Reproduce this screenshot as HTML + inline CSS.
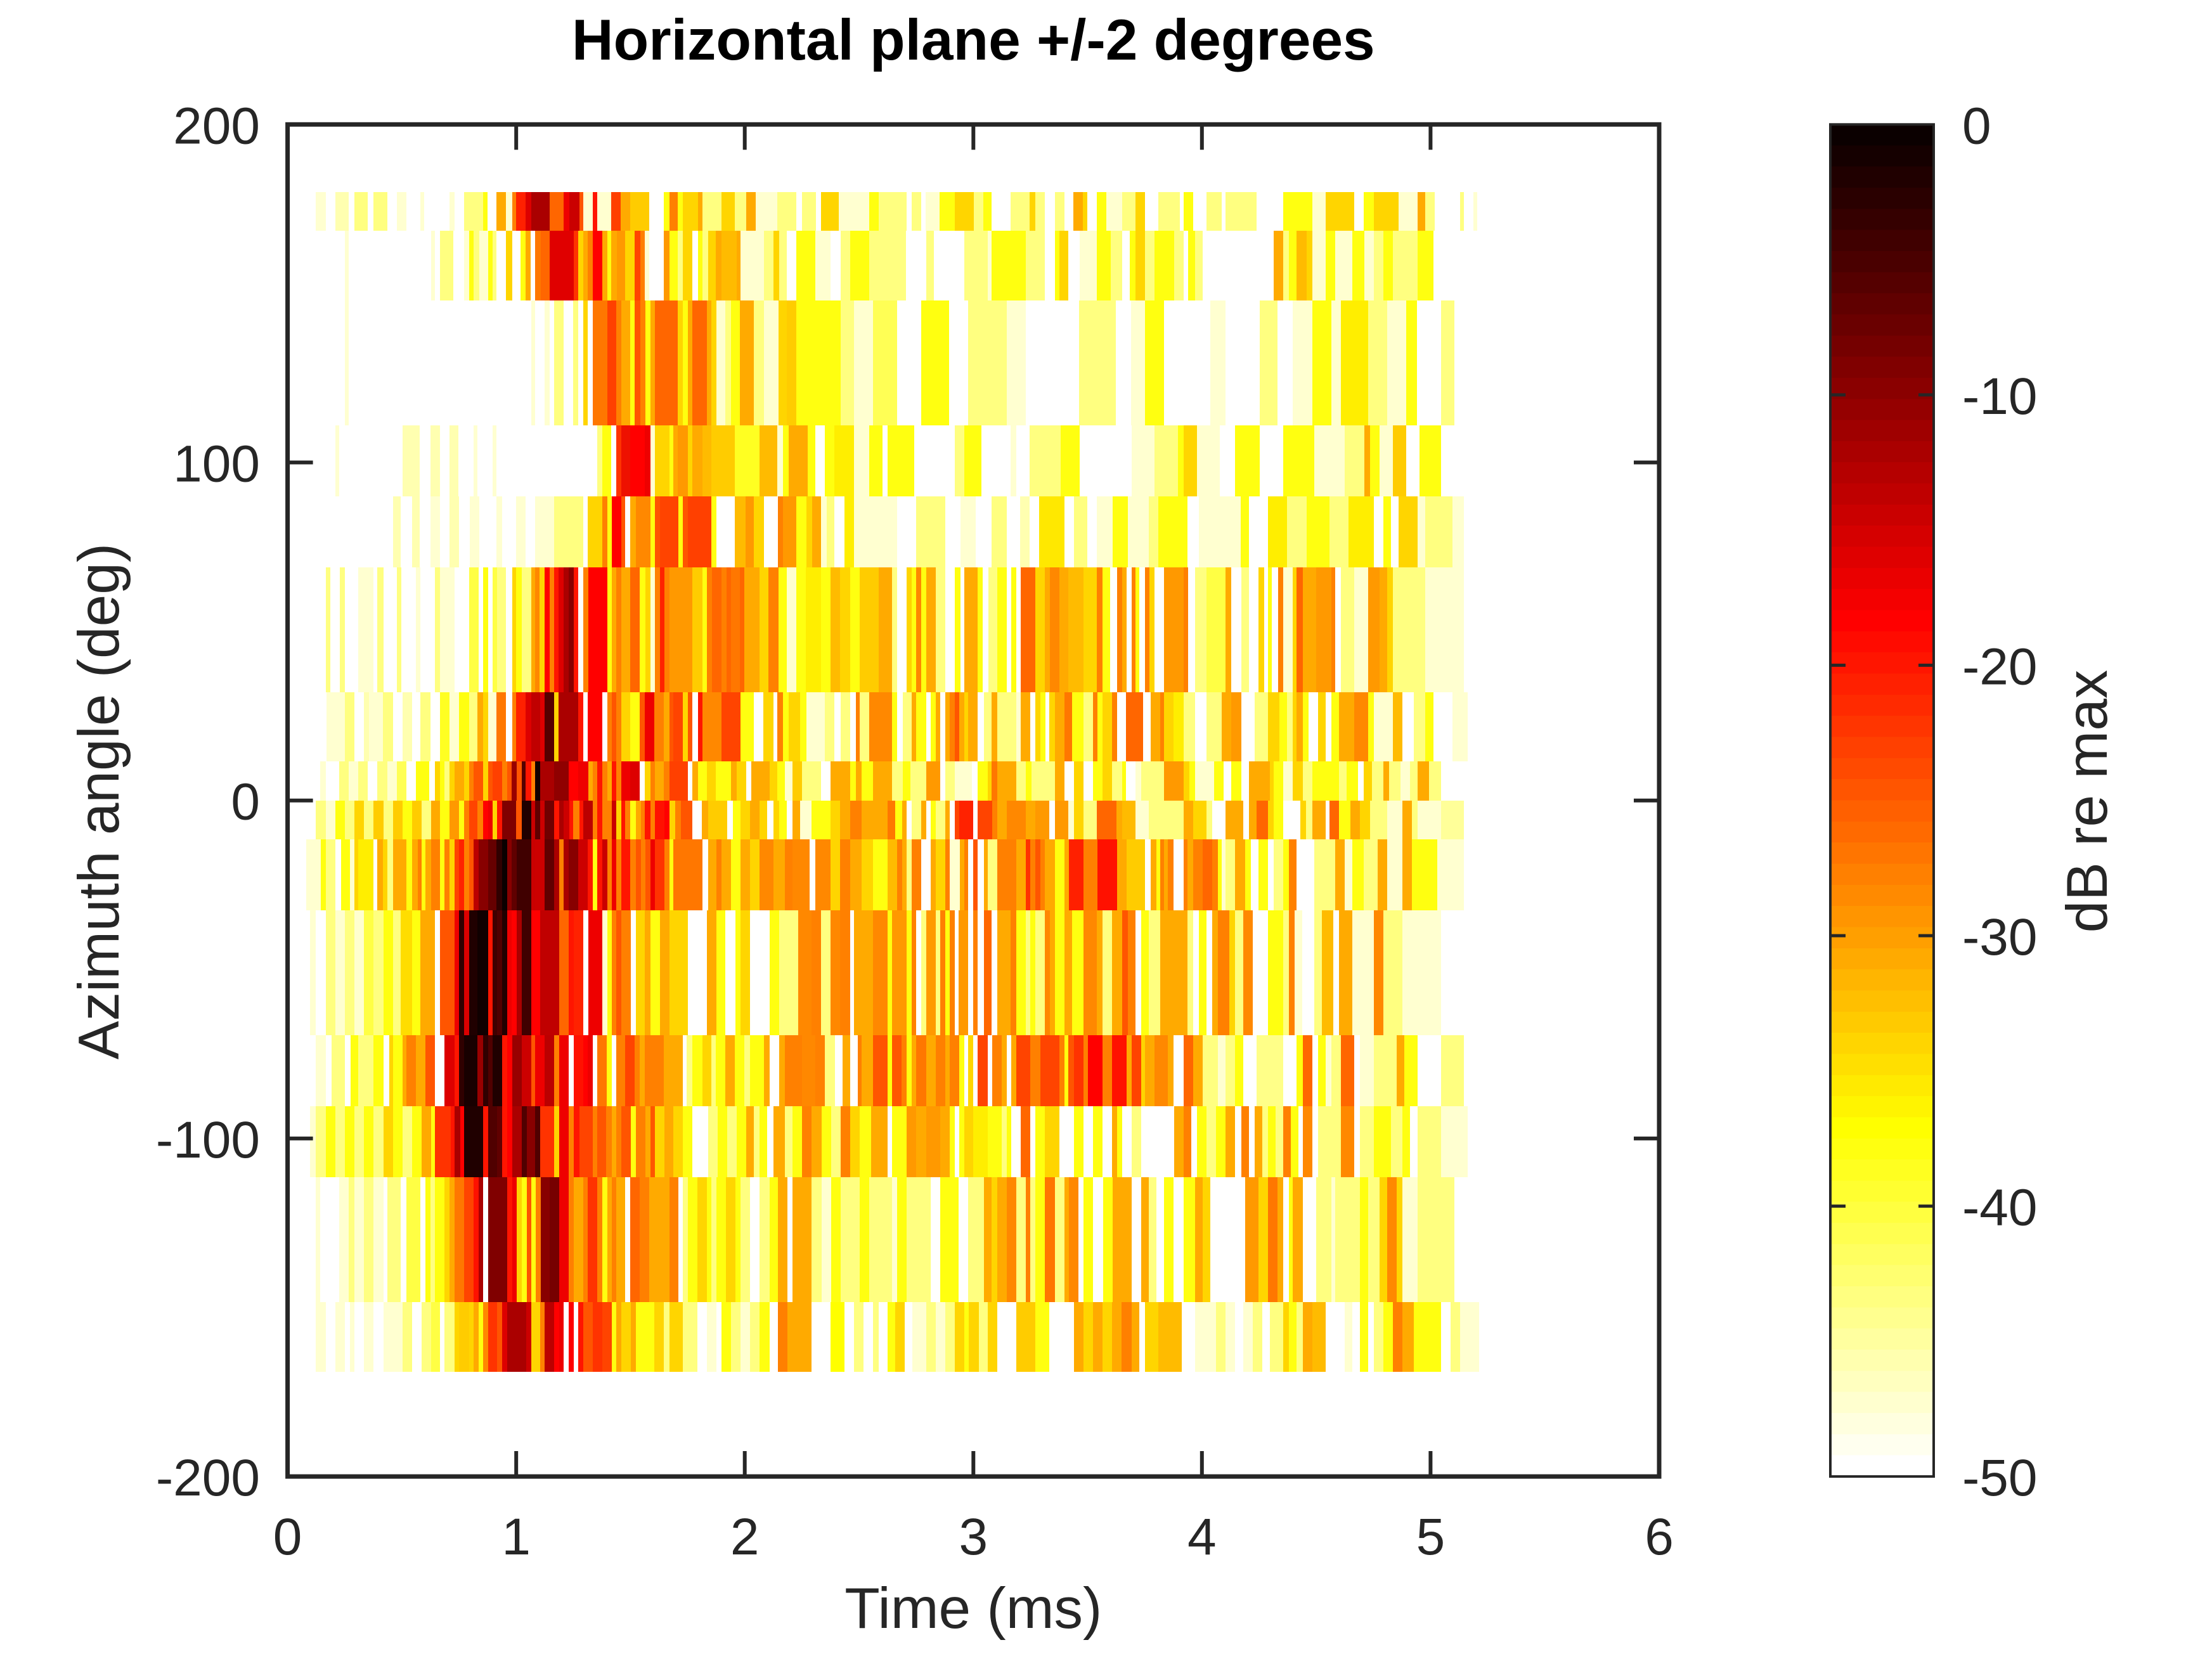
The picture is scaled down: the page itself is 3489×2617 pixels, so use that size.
<!DOCTYPE html>
<html><head><meta charset="utf-8"><style>
html,body{margin:0;padding:0;background:#fff}
body{width:3489px;height:2617px;position:relative;overflow:hidden;font-family:"Liberation Sans",Arial,Helvetica,sans-serif}
.r{position:absolute;left:0;width:2617px}
</style></head><body>

<div class="r" style="top:303px;height:61px;background:linear-gradient(90deg,#fff 0px 498px,#ffffd0 498px 514px,#fff 514px 529px,#ffffb0 529px 550px,#fff 550px 559px,#ffff80 559px 580px,#fff 580px 589px,#ffff80 589px 611px,#fff 611px 626px,#ffffd0 626px 641px,#fff 641px 663px,#ffffd0 663px 669px,#fff 669px 709px,#ffffd0 709px 717px,#fff 717px 732px,#ffff80 732px 762px,#ffff10 762px 769px,#fff 769px 783px,#ffaa00 783px 798px,#ffffd0 798px 808px,#ff8000 808px 814px,#ff2000 814px 829px,#dd0000 829px 838px,#aa0000 838px 867px,#ff6600 867px 889px,#ee0000 889px 898px,#ca0000 898px 914px,#ff5500 914px 920px,#ffffd0 920px 935px,#ff1500 935px 942px,#ffffd0 942px 964px,#ff4000 964px 979px,#ffaa00 979px 994px,#ffcc00 994px 1024px,#fff 1024px 1047px,#ffff10 1047px 1056px,#ff8000 1056px 1069px,#ffff10 1069px 1077px,#ffd500 1077px 1101px,#ffaa00 1101px 1108px,#ffff80 1108px 1138px,#ffd500 1138px 1159px,#ffff80 1159px 1177px,#ffaa00 1177px 1192px,#ffffd0 1192px 1226px,#ffff80 1226px 1256px,#fff 1256px 1265px,#ffff80 1265px 1287px,#fff 1287px 1295px,#ffd500 1295px 1323px,#ffffd0 1323px 1371px,#ffff10 1371px 1386px,#ffff80 1386px 1430px,#fff 1430px 1438px,#ffff80 1438px 1453px,#fff 1453px 1460px,#ffffd0 1460px 1482px,#ffff10 1482px 1506px,#ffd500 1506px 1536px,#ffff80 1536px 1551px,#ffff10 1551px 1564px,#fff 1564px 1594px,#ffff80 1594px 1624px,#ffd500 1624px 1633px,#ffff80 1633px 1648px,#fff 1648px 1664px,#ffff80 1664px 1679px,#fff 1679px 1693px,#ffaa00 1693px 1708px,#ffd500 1708px 1715px,#fff 1715px 1730px,#ffff10 1730px 1745px,#ffffd0 1745px 1770px,#ffff80 1770px 1791px,#ffd500 1791px 1806px,#fff 1806px 1827px,#ffff80 1827px 1861px,#fff 1861px 1867px,#ffff10 1867px 1882px,#fff 1882px 1903px,#ffff80 1903px 1927px,#fff 1927px 1933px,#ffff80 1933px 1982px,#fff 1982px 2024px,#ffff10 2024px 2070px,#ffffd0 2070px 2091px,#ffd500 2091px 2136px,#fff 2136px 2151px,#ffff10 2151px 2167px,#ffd500 2167px 2206px,#ffffd0 2206px 2236px,#ffaa00 2236px 2248px,#ffff80 2248px 2263px,#fff 2263px 2303px,#ffff80 2303px 2309px,#fff 2309px 2324px,#ffffd0 2324px 2330px,#fff 2330px)"></div>

<div class="r" style="top:364px;height:110px;background:linear-gradient(90deg,#fff 0px 544px,#ffffd0 544px 550px,#fff 550px 680px,#ffffd0 680px 686px,#fff 686px 694px,#ffff80 694px 715px,#fff 715px 732px,#ffffd0 732px 740px,#ffff10 740px 747px,#ffff80 747px 756px,#ffffd0 756px 770px,#ffff10 770px 777px,#ffff80 777px 783px,#fff 783px 798px,#ffd500 798px 808px,#fff 808px 821px,#ffff10 821px 829px,#ffaa00 829px 837px,#fff 837px 844px,#ff7700 844px 853px,#ff6600 853px 867px,#e00000 867px 905px,#ff3300 905px 912px,#ffd500 912px 920px,#ffaa00 920px 927px,#ff8000 927px 935px,#ff0000 935px 950px,#ffaa00 950px 958px,#ffff10 958px 964px,#ffaa00 964px 973px,#ff9900 973px 986px,#ffd500 986px 1001px,#ff4400 1001px 1010px,#ff8000 1010px 1017px,#ffffd0 1017px 1024px,#fff 1024px 1047px,#ff9900 1047px 1056px,#ffff10 1056px 1069px,#ffff80 1069px 1077px,#ffd500 1077px 1092px,#fff 1092px 1101px,#ffff10 1101px 1108px,#ffff80 1108px 1117px,#ffd500 1117px 1129px,#ffaa00 1129px 1138px,#ffbb00 1138px 1162px,#ffaa00 1162px 1168px,#ffffd0 1168px 1205px,#ffff80 1205px 1220px,#ffd500 1220px 1229px,#ffff80 1229px 1241px,#fff 1241px 1256px,#ffff10 1256px 1286px,#ffffd0 1286px 1310px,#fff 1310px 1326px,#ffff80 1326px 1341px,#ffff10 1341px 1371px,#ffff80 1371px 1429px,#fff 1429px 1461px,#ffff80 1461px 1473px,#fff 1473px 1521px,#ffff80 1521px 1558px,#ffffd0 1558px 1564px,#ffff10 1564px 1618px,#ffff80 1618px 1648px,#fff 1648px 1664px,#ffff10 1664px 1671px,#ffd500 1671px 1685px,#fff 1685px 1703px,#ffffd0 1703px 1730px,#ffff10 1730px 1752px,#ffff80 1752px 1770px,#fff 1770px 1782px,#ffff10 1782px 1791px,#ffd500 1791px 1806px,#ffff80 1806px 1821px,#ffff10 1821px 1852px,#ffff80 1852px 1867px,#fff 1867px 1874px,#ffff10 1874px 1885px,#ffff80 1885px 1897px,#fff 1897px 2009px,#ffaa00 2009px 2024px,#ffff80 2024px 2033px,#ffff10 2033px 2045px,#ffbb00 2045px 2061px,#ffd500 2061px 2070px,#ffffd0 2070px 2091px,#ffff10 2091px 2106px,#ffffd0 2106px 2133px,#ffff10 2133px 2152px,#ffffd0 2152px 2167px,#ffff80 2167px 2182px,#ffff10 2182px 2197px,#ffff80 2197px 2236px,#ffff10 2236px 2261px,#fff 2261px)"></div>

<div class="r" style="top:474px;height:197px;background:linear-gradient(90deg,#fff 0px 544px,#ffffd0 544px 550px,#fff 550px 838px,#ffffd0 838px 844px,#fff 844px 859px,#ffffd0 859px 867px,#fff 867px 874px,#ffff80 874px 889px,#fff 889px 904px,#ffff80 904px 912px,#fff 912px 920px,#ffd500 920px 927px,#fff 927px 935px,#ff7700 935px 958px,#ff4000 958px 972px,#ff8000 972px 980px,#ffaa00 980px 994px,#ffff10 994px 1001px,#ff5500 1001px 1010px,#ff8000 1010px 1018px,#ffff10 1018px 1026px,#ffaa00 1026px 1033px,#ff6600 1033px 1069px,#ffd500 1069px 1077px,#ffff10 1077px 1085px,#ffaa00 1085px 1092px,#ff6600 1092px 1115px,#ffaa00 1115px 1122px,#ffd500 1122px 1130px,#ffffd0 1130px 1144px,#ffff80 1144px 1153px,#ffff10 1153px 1167px,#ffaa00 1167px 1189px,#ffff80 1189px 1205px,#ffffd0 1205px 1228px,#ffd500 1228px 1241px,#ffcc00 1241px 1256px,#ffff10 1256px 1326px,#ffff80 1326px 1347px,#ffffd0 1347px 1377px,#ffff55 1377px 1415px,#fff 1415px 1453px,#ffff10 1453px 1497px,#fff 1497px 1527px,#ffff80 1527px 1588px,#ffffd0 1588px 1618px,#fff 1618px 1702px,#ffff80 1702px 1760px,#fff 1760px 1784px,#ffffd0 1784px 1806px,#ffff10 1806px 1836px,#fff 1836px 1909px,#ffffd0 1909px 1933px,#fff 1933px 1987px,#ffff80 1987px 2015px,#fff 2015px 2039px,#ffffd0 2039px 2070px,#ffff10 2070px 2100px,#ffffd0 2100px 2115px,#ffee00 2115px 2158px,#ffff80 2158px 2188px,#ffffd0 2188px 2218px,#ffff10 2218px 2235px,#fff 2235px 2273px,#ffff80 2273px 2294px,#fff 2294px)"></div>

<div class="r" style="top:671px;height:112px;background:linear-gradient(90deg,#fff 0px 529px,#ffffd0 529px 535px,#fff 535px 635px,#ffffb0 635px 662px,#fff 662px 679px,#ffffb0 679px 694px,#fff 694px 709px,#ffffb0 709px 723px,#fff 723px 747px,#ffffd0 747px 753px,#fff 753px 777px,#ffffd0 777px 783px,#fff 783px 942px,#ffff80 942px 950px,#ffff10 950px 964px,#fff 964px 972px,#ff3300 972px 980px,#ee1100 980px 994px,#ff0000 994px 1017px,#ee0000 1017px 1026px,#ffffd0 1026px 1033px,#ffd500 1033px 1056px,#ffff10 1056px 1062px,#ffaa00 1062px 1069px,#ff9900 1069px 1085px,#ffd500 1085px 1092px,#ffaa00 1092px 1108px,#ffbb00 1108px 1122px,#ffcc00 1122px 1159px,#ffff22 1159px 1198px,#ffbb00 1198px 1226px,#ffffd0 1226px 1235px,#ffff10 1235px 1244px,#ffaa00 1244px 1274px,#ffff10 1274px 1286px,#fff 1286px 1301px,#ffff10 1301px 1316px,#ffee00 1316px 1347px,#ffffd0 1347px 1371px,#ffff10 1371px 1392px,#fff 1392px 1400px,#ffff10 1400px 1442px,#fff 1442px 1506px,#ffff80 1506px 1521px,#ffff10 1521px 1548px,#fff 1548px 1594px,#ffffd0 1594px 1603px,#fff 1603px 1624px,#ffff80 1624px 1673px,#ffff10 1673px 1703px,#fff 1703px 1785px,#ffffd0 1785px 1821px,#ffff80 1821px 1858px,#ffff10 1858px 1867px,#ffd500 1867px 1888px,#ffffd0 1888px 1924px,#fff 1924px 1948px,#ffff10 1948px 1987px,#fff 1987px 2024px,#ffff10 2024px 2073px,#ffffd0 2073px 2121px,#ffff80 2121px 2152px,#ffaa00 2152px 2161px,#ffff10 2161px 2176px,#ffffd0 2176px 2197px,#ffcc00 2197px 2218px,#fff 2218px 2239px,#ffff10 2239px 2273px,#fff 2273px)"></div>

<div class="r" style="top:783px;height:112px;background:linear-gradient(90deg,#fff 0px 620px,#ffffb0 620px 632px,#fff 632px 650px,#ffffb0 650px 662px,#fff 662px 679px,#ffffd0 679px 694px,#fff 694px 709px,#ffffb0 709px 724px,#fff 724px 741px,#ffffd0 741px 756px,#fff 756px 783px,#ffffd0 783px 792px,#fff 792px 814px,#ffffd0 814px 829px,#fff 829px 844px,#ffffd0 844px 874px,#ffff80 874px 920px,#fff 920px 927px,#ffd500 927px 950px,#ff8000 950px 958px,#ffff10 958px 965px,#ff0000 965px 980px,#ff5500 980px 986px,#fff 986px 994px,#ffaa00 994px 1003px,#ff8800 1003px 1026px,#ffff10 1026px 1033px,#ff5500 1033px 1041px,#ff4400 1041px 1070px,#ffff10 1070px 1077px,#ff5500 1077px 1085px,#ff4000 1085px 1122px,#ffff10 1122px 1130px,#fff 1130px 1159px,#ffbb00 1159px 1176px,#ff9900 1176px 1189px,#ffd500 1189px 1205px,#fff 1205px 1227px,#ff8000 1227px 1235px,#ff9900 1235px 1256px,#ffff10 1256px 1272px,#ffd500 1272px 1281px,#ffaa00 1281px 1295px,#ffffd0 1295px 1304px,#ffff80 1304px 1316px,#fff 1316px 1332px,#ffee00 1332px 1347px,#ffffd0 1347px 1415px,#fff 1415px 1445px,#ffff80 1445px 1491px,#fff 1491px 1515px,#ffffd0 1515px 1539px,#fff 1539px 1564px,#ffff80 1564px 1588px,#fff 1588px 1609px,#ffffb0 1609px 1624px,#fff 1624px 1639px,#ffe800 1639px 1679px,#fff 1679px 1694px,#ffff80 1694px 1715px,#fff 1715px 1730px,#ffffd0 1730px 1755px,#ffff10 1755px 1779px,#ffffd0 1779px 1812px,#ffff80 1812px 1827px,#ffff10 1827px 1873px,#fff 1873px 1891px,#ffffd0 1891px 1957px,#ffff10 1957px 1970px,#fff 1970px 2000px,#ffee00 2000px 2030px,#ffff80 2030px 2061px,#ffff10 2061px 2097px,#ffff80 2097px 2127px,#ffee00 2127px 2167px,#fff 2167px 2182px,#ffff10 2182px 2194px,#fff 2194px 2206px,#ffd500 2206px 2236px,#ffffd0 2236px 2248px,#ffff80 2248px 2291px,#ffffd0 2291px 2309px,#fff 2309px)"></div>

<div class="r" style="top:895px;height:197px;background:linear-gradient(90deg,#fff 0px 514px,#ffff80 514px 521px,#fff 521px 536px,#ffff80 536px 544px,#fff 544px 565px,#ffffd0 565px 589px,#fff 589px 595px,#ffff80 595px 605px,#fff 605px 626px,#ffff80 626px 633px,#fff 633px 656px,#ffffd0 656px 663px,#fff 663px 686px,#ffff80 686px 694px,#ffffd0 694px 717px,#fff 717px 740px,#ffff44 740px 755px,#fff 755px 762px,#ffff10 762px 770px,#fff 770px 777px,#ffff44 777px 784px,#ffff80 784px 798px,#fff 798px 808px,#ffd500 808px 814px,#ffff10 814px 823px,#ffff80 823px 838px,#ffaa00 838px 844px,#ff8800 844px 851px,#ffd500 851px 859px,#ff0000 859px 867px,#ff8000 867px 874px,#ff1500 874px 881px,#dd0000 881px 889px,#aa0000 889px 897px,#880000 897px 905px,#ff1500 905px 912px,#fff 912px 920px,#ff8000 920px 928px,#ff0000 928px 958px,#ffff10 958px 965px,#ffaa00 965px 972px,#ff8000 972px 980px,#ffaa00 980px 994px,#ff6600 994px 1009px,#ffff10 1009px 1018px,#ffd500 1018px 1026px,#ffffd0 1026px 1033px,#ff8000 1033px 1041px,#ff2200 1041px 1048px,#ff8000 1048px 1056px,#ff9900 1056px 1092px,#ffcc00 1092px 1108px,#ffff10 1108px 1115px,#ff8000 1115px 1123px,#ff6600 1123px 1138px,#ff8000 1138px 1146px,#ff6600 1146px 1153px,#ff7700 1153px 1167px,#ff6600 1167px 1174px,#ffaa00 1174px 1198px,#ffd500 1198px 1212px,#ff8000 1212px 1228px,#ffff10 1228px 1241px,#ffffd0 1241px 1256px,#ffff10 1256px 1271px,#ffee00 1271px 1295px,#ffff10 1295px 1310px,#ffbb00 1310px 1325px,#ffd500 1325px 1341px,#ffff10 1341px 1356px,#ffcc00 1356px 1386px,#ffaa00 1386px 1407px,#ffff80 1407px 1415px,#fff 1415px 1430px,#ffd500 1430px 1438px,#ffff10 1438px 1445px,#ff8800 1445px 1453px,#ffff10 1453px 1461px,#ffaa00 1461px 1476px,#ffff80 1476px 1491px,#fff 1491px 1506px,#ffff10 1506px 1515px,#fff 1515px 1521px,#ffaa00 1521px 1542px,#ffff10 1542px 1550px,#fff 1550px 1559px,#ffff80 1559px 1573px,#ffff10 1573px 1588px,#fff 1588px 1595px,#ffff10 1595px 1603px,#fff 1603px 1610px,#ff6600 1610px 1633px,#ffd500 1633px 1648px,#ffaa00 1648px 1656px,#ff8800 1656px 1671px,#ffaa00 1671px 1685px,#ffbb00 1685px 1709px,#ffd500 1709px 1730px,#ff8000 1730px 1739px,#ffff10 1739px 1751px,#fff 1751px 1762px,#ff8000 1762px 1770px,#ffaa00 1770px 1777px,#fff 1777px 1785px,#ff8000 1785px 1791px,#ffff10 1791px 1797px,#fff 1797px 1806px,#ff8000 1806px 1813px,#ffd500 1813px 1821px,#fff 1821px 1836px,#ff9900 1836px 1867px,#ff8000 1867px 1874px,#fff 1874px 1885px,#ffff80 1885px 1903px,#ffff44 1903px 1933px,#ffaa00 1933px 1942px,#fff 1942px 1958px,#ffff80 1958px 1970px,#fff 1970px 1985px,#ffd500 1985px 1994px,#fff 1994px 2000px,#ffff10 2000px 2006px,#fff 2006px 2016px,#ff8000 2016px 2024px,#ffffd0 2024px 2039px,#ffd500 2039px 2045px,#ff6600 2045px 2055px,#ffaa00 2055px 2076px,#ff9900 2076px 2100px,#ff8000 2100px 2106px,#fff 2106px 2115px,#ffff80 2115px 2136px,#ffffd0 2136px 2158px,#ff9900 2158px 2176px,#ffaa00 2176px 2188px,#ffd500 2188px 2197px,#ffff80 2197px 2248px,#ffffd0 2248px 2309px,#fff 2309px)"></div>

<div class="r" style="top:1092px;height:109px;background:linear-gradient(90deg,#fff 0px 515px,#ffffd0 515px 544px,#ffff80 544px 559px,#fff 559px 574px,#ffffb0 574px 582px,#ffffd0 582px 604px,#ffff80 604px 620px,#fff 620px 635px,#ffffb0 635px 650px,#fff 650px 663px,#ffff80 663px 679px,#fff 679px 694px,#ffff22 694px 709px,#ffffd0 709px 724px,#ffff10 724px 740px,#ffff80 740px 753px,#ffaa00 753px 762px,#ffd500 762px 770px,#ffffd0 770px 783px,#ff7700 783px 798px,#fff 798px 808px,#ff8000 808px 814px,#ff2000 814px 829px,#dd0000 829px 838px,#c00000 838px 852px,#dd0000 852px 859px,#550000 859px 874px,#ffd500 874px 881px,#aa0000 881px 912px,#ff1500 912px 920px,#fff 920px 927px,#ff0000 927px 950px,#fff 950px 958px,#ff8000 958px 965px,#ff5500 965px 972px,#ff8000 972px 980px,#ffd500 980px 994px,#ffff10 994px 1009px,#ff5500 1009px 1017px,#ee0000 1017px 1032px,#ff8000 1032px 1047px,#ffaa00 1047px 1056px,#ff5500 1056px 1062px,#ff4400 1062px 1077px,#ffd500 1077px 1085px,#ff5500 1085px 1092px,#fff 1092px 1101px,#ff1500 1101px 1108px,#ff8800 1108px 1138px,#ff4400 1138px 1168px,#ffff10 1168px 1189px,#fff 1189px 1204px,#ffd500 1204px 1220px,#fff 1220px 1226px,#ff8000 1226px 1235px,#ffff10 1235px 1244px,#ffd500 1244px 1262px,#ffff10 1262px 1272px,#ffffd0 1272px 1301px,#ffff80 1301px 1316px,#fff 1316px 1326px,#ffff80 1326px 1341px,#fff 1341px 1350px,#ff8000 1350px 1356px,#ffff80 1356px 1371px,#ff8800 1371px 1407px,#ffff10 1407px 1415px,#fff 1415px 1424px,#ffff80 1424px 1438px,#ffaa00 1438px 1445px,#ffff10 1445px 1461px,#fff 1461px 1468px,#ffff10 1468px 1476px,#ffaa00 1476px 1483px,#fff 1483px 1491px,#ffaa00 1491px 1498px,#ff8000 1498px 1506px,#ff5500 1506px 1513px,#ffaa00 1513px 1521px,#ffd500 1521px 1527px,#ffaa00 1527px 1542px,#fff 1542px 1552px,#ffff80 1552px 1564px,#ffaa00 1564px 1573px,#ffff80 1573px 1603px,#ffffd0 1603px 1610px,#ffaa00 1610px 1625px,#fff 1625px 1633px,#ffd500 1633px 1641px,#ffff10 1641px 1649px,#fff 1649px 1655px,#ffd500 1655px 1664px,#ffaa00 1664px 1679px,#ff7700 1679px 1691px,#ffff10 1691px 1709px,#ffff80 1709px 1724px,#ff8000 1724px 1731px,#ffff10 1731px 1739px,#ffd500 1739px 1754px,#ff8000 1754px 1762px,#fff 1762px 1776px,#ff6600 1776px 1803px,#fff 1803px 1815px,#ffaa00 1815px 1830px,#ff8000 1830px 1836px,#ffd500 1836px 1851px,#ffee00 1851px 1867px,#ffff80 1867px 1885px,#fff 1885px 1903px,#ffff80 1903px 1927px,#ffaa00 1927px 1942px,#ff9900 1942px 1958px,#fff 1958px 1979px,#ffff80 1979px 2000px,#ffd500 2000px 2018px,#ffff10 2018px 2030px,#ffff80 2030px 2039px,#ffd500 2039px 2045px,#ffaa00 2045px 2055px,#ffff10 2055px 2064px,#fff 2064px 2079px,#ffd500 2079px 2091px,#fff 2091px 2100px,#ffff10 2100px 2112px,#ffaa00 2112px 2136px,#ff8800 2136px 2158px,#ffff10 2158px 2167px,#ffffd0 2167px 2197px,#ffbb00 2197px 2212px,#fff 2212px 2230px,#ffff80 2230px 2248px,#ffff10 2248px 2261px,#fff 2261px 2291px,#ffffd0 2291px 2315px,#fff 2315px)"></div>

<div class="r" style="top:1201px;height:62px;background:linear-gradient(90deg,#fff 0px 505px,#ffffd0 505px 514px,#fff 514px 535px,#ffff80 535px 550px,#ffffd0 550px 565px,#ffff80 565px 580px,#fff 580px 595px,#ffff80 595px 611px,#ffffd0 611px 626px,#ffff55 626px 641px,#fff 641px 656px,#ffff10 656px 677px,#fff 677px 686px,#ffd500 686px 694px,#ffff10 694px 701px,#ffff80 701px 709px,#ffd500 709px 717px,#ffaa00 717px 732px,#ffd500 732px 740px,#ff8000 740px 747px,#ff5500 747px 762px,#ffd500 762px 770px,#ff5500 770px 777px,#ff4000 777px 792px,#ff8000 792px 800px,#ff5500 800px 807px,#990000 807px 815px,#ff5500 815px 823px,#550000 823px 829px,#ff1500 829px 838px,#ff8000 838px 844px,#100000 844px 852px,#aa0000 852px 874px,#900000 874px 897px,#ff0000 897px 912px,#ee0000 912px 928px,#ffaa00 928px 935px,#ff8000 935px 942px,#ff1500 942px 950px,#ff8000 950px 958px,#ffaa00 958px 965px,#ff1500 965px 972px,#ff8000 972px 980px,#ee0000 980px 994px,#dd0000 994px 1009px,#fff 1009px 1017px,#ffd500 1017px 1026px,#ff8000 1026px 1033px,#ffaa00 1033px 1047px,#ff8000 1047px 1056px,#ff4000 1056px 1085px,#fff 1085px 1092px,#ffaa00 1092px 1101px,#ffff10 1101px 1115px,#ffd500 1115px 1129px,#ffff10 1129px 1153px,#ffaa00 1153px 1162px,#ffd500 1162px 1177px,#fff 1177px 1185px,#ffaa00 1185px 1214px,#ffd500 1214px 1226px,#ffff10 1226px 1238px,#ffffd0 1238px 1250px,#ffcc00 1250px 1265px,#ffff80 1265px 1295px,#fff 1295px 1310px,#ffaa00 1310px 1341px,#ffff10 1341px 1350px,#ffaa00 1350px 1359px,#ffff10 1359px 1377px,#ffaa00 1377px 1407px,#ffff80 1407px 1424px,#ffff10 1424px 1436px,#ffff80 1436px 1461px,#ff9900 1461px 1483px,#fff 1483px 1491px,#ffff80 1491px 1506px,#ffffd0 1506px 1533px,#fff 1533px 1542px,#ffff10 1542px 1558px,#ffd500 1558px 1564px,#ff7700 1564px 1573px,#ffaa00 1573px 1603px,#ffff80 1603px 1618px,#ffff10 1618px 1627px,#ffff80 1627px 1664px,#ffaa00 1664px 1679px,#fff 1679px 1694px,#ffd500 1694px 1709px,#fff 1709px 1724px,#ffff10 1724px 1739px,#ffd500 1739px 1754px,#ffff80 1754px 1770px,#ffff10 1770px 1776px,#fff 1776px 1791px,#ffffd0 1791px 1800px,#ffff80 1800px 1836px,#ff9900 1836px 1867px,#ffd500 1867px 1876px,#ffff10 1876px 1885px,#ffffd0 1885px 1915px,#ffff10 1915px 1930px,#fff 1930px 1942px,#ffff10 1942px 1958px,#fff 1958px 1970px,#ffaa00 1970px 2003px,#ffd500 2003px 2009px,#ffff10 2009px 2024px,#ffffd0 2024px 2039px,#ffd500 2039px 2055px,#ffff80 2055px 2070px,#ffff10 2070px 2112px,#ffff80 2112px 2124px,#ffff10 2124px 2142px,#fff 2142px 2151px,#ffd500 2151px 2164px,#ffff80 2164px 2182px,#ffaa00 2182px 2191px,#ffff80 2191px 2209px,#ffffd0 2209px 2224px,#ffff80 2224px 2236px,#ffaa00 2236px 2254px,#ffff80 2254px 2273px,#fff 2273px)"></div>

<div class="r" style="top:1263px;height:61px;background:linear-gradient(90deg,#fff 0px 498px,#ffff80 498px 514px,#ffffd0 514px 529px,#ffff10 529px 544px,#ffff80 544px 559px,#ffd500 559px 574px,#ffff80 574px 589px,#ffcc00 589px 605px,#ffff80 605px 620px,#ffcc00 620px 635px,#ffff10 635px 650px,#ffcc00 650px 665px,#ffff80 665px 680px,#ffaa00 680px 694px,#ffff10 694px 709px,#ff9900 709px 724px,#ffff10 724px 732px,#ff8000 732px 740px,#ff4400 740px 753px,#ff8000 753px 762px,#ff0000 762px 770px,#ee0000 770px 777px,#ffd500 777px 784px,#ff1500 784px 792px,#800000 792px 814px,#ff5500 814px 823px,#200000 823px 838px,#ca0000 838px 844px,#600000 844px 852px,#cc0000 852px 859px,#700000 859px 874px,#ff1500 874px 882px,#aa0000 882px 889px,#cc0000 889px 898px,#ff1500 898px 904px,#ff8000 904px 914px,#ff1500 914px 920px,#bb0000 920px 935px,#ff8000 935px 942px,#ff1500 942px 950px,#ff8000 950px 965px,#ca0000 965px 972px,#ffd500 972px 980px,#ff1500 980px 986px,#ff8000 986px 994px,#ffff10 994px 1003px,#ffaa00 1003px 1011px,#ff8000 1011px 1017px,#ff1500 1017px 1026px,#ff8000 1026px 1033px,#ff1100 1033px 1048px,#ff0000 1048px 1056px,#ffd500 1056px 1065px,#ff8000 1065px 1074px,#ff5500 1074px 1092px,#fff 1092px 1107px,#ffaa00 1107px 1117px,#ffcc00 1117px 1147px,#fff 1147px 1156px,#ffff10 1156px 1168px,#ffd500 1168px 1183px,#ffaa00 1183px 1198px,#ffd500 1198px 1210px,#fff 1210px 1220px,#ffd500 1220px 1229px,#ffff10 1229px 1241px,#fff 1241px 1250px,#ffaa00 1250px 1262px,#ffffd0 1262px 1280px,#ffff10 1280px 1310px,#ffd500 1310px 1325px,#ffaa00 1325px 1341px,#ff8000 1341px 1359px,#ffaa00 1359px 1400px,#ff7700 1400px 1412px,#ffff10 1412px 1423px,#ffaa00 1423px 1430px,#fff 1430px 1438px,#ffff80 1438px 1453px,#ffaa00 1453px 1461px,#fff 1461px 1468px,#ffff10 1468px 1476px,#ffff80 1476px 1491px,#ffaa00 1491px 1498px,#fff 1498px 1506px,#ff4400 1506px 1513px,#ff2200 1513px 1535px,#fff 1535px 1542px,#ff4400 1542px 1565px,#ff8000 1565px 1573px,#ffaa00 1573px 1588px,#ff8800 1588px 1618px,#ffaa00 1618px 1633px,#ff9900 1633px 1655px,#fff 1655px 1664px,#ff9900 1664px 1685px,#ffffd0 1685px 1694px,#ffd500 1694px 1709px,#ffff80 1709px 1730px,#ff6600 1730px 1761px,#ffaa00 1761px 1770px,#ffbb00 1770px 1791px,#ffffd0 1791px 1812px,#ffff80 1812px 1867px,#ffaa00 1867px 1882px,#ffd500 1882px 1903px,#ffff80 1903px 1912px,#fff 1912px 1933px,#ffaa00 1933px 1961px,#fff 1961px 1970px,#ffaa00 1970px 1982px,#ff6600 1982px 2000px,#ffd500 2000px 2009px,#ffff10 2009px 2024px,#fff 2024px 2051px,#ffd500 2051px 2060px,#ffff80 2060px 2070px,#ffaa00 2070px 2091px,#fff 2091px 2097px,#ff6600 2097px 2112px,#ffff10 2112px 2130px,#ffaa00 2130px 2145px,#ffd500 2145px 2161px,#ffff80 2161px 2188px,#ffffd0 2188px 2212px,#ffaa00 2212px 2227px,#ffff80 2227px 2236px,#ffffd0 2236px 2273px,#ffff99 2273px 2309px,#fff 2309px)"></div>

<div class="r" style="top:1324px;height:112px;background:linear-gradient(90deg,#fff 0px 483px,#ffffd0 483px 506px,#ffff10 506px 514px,#ffff80 514px 529px,#fff 529px 538px,#ffff10 538px 552px,#ffffd0 552px 559px,#ffd500 559px 565px,#ffee00 565px 589px,#fff 589px 595px,#ffaa00 595px 604px,#ffd500 604px 611px,#ffff80 611px 620px,#ffaa00 620px 641px,#ffff10 641px 650px,#ffaa00 650px 659px,#ff8000 659px 665px,#ffff10 665px 671px,#ffaa00 671px 680px,#ff8000 680px 694px,#ffff10 694px 701px,#ff8000 701px 709px,#ffd500 709px 717px,#ff4400 717px 724px,#ff2200 724px 732px,#ff8000 732px 740px,#ff5500 740px 747px,#bb0000 747px 755px,#880000 755px 770px,#660000 770px 783px,#300000 783px 792px,#0a0000 792px 800px,#880000 800px 807px,#600000 807px 815px,#400000 815px 838px,#ca0000 838px 844px,#cc0000 844px 859px,#600000 859px 874px,#aa0000 874px 882px,#ff8000 882px 889px,#aa0000 889px 897px,#880000 897px 912px,#cc0000 912px 927px,#ff1500 927px 935px,#ffff10 935px 942px,#ff1500 942px 950px,#ca0000 950px 958px,#ff8000 958px 965px,#ee0000 965px 972px,#ff8000 972px 980px,#ff1500 980px 994px,#ff8000 994px 1003px,#ff5500 1003px 1011px,#ff8000 1011px 1018px,#ff5500 1018px 1026px,#ee0000 1026px 1033px,#ff3300 1033px 1048px,#ff8000 1048px 1056px,#ffff10 1056px 1062px,#ff7700 1062px 1108px,#fff 1108px 1117px,#ffaa00 1117px 1130px,#ff8000 1130px 1138px,#ffaa00 1138px 1153px,#ffff10 1153px 1168px,#ffaa00 1168px 1183px,#ffd500 1183px 1198px,#ff8800 1198px 1220px,#ffaa00 1220px 1238px,#ff8000 1238px 1250px,#ff8800 1250px 1277px,#fff 1277px 1286px,#ff8800 1286px 1310px,#ffd500 1310px 1325px,#ff8000 1325px 1341px,#ffaa00 1341px 1359px,#ffd500 1359px 1377px,#ffff10 1377px 1400px,#ffbb00 1400px 1415px,#ff8000 1415px 1423px,#ffaa00 1423px 1430px,#ffff80 1430px 1438px,#ff8000 1438px 1453px,#fff 1453px 1468px,#ffaa00 1468px 1476px,#ffd500 1476px 1491px,#ff8000 1491px 1498px,#ffffd0 1498px 1514px,#ffaa00 1514px 1521px,#ff8000 1521px 1527px,#fff 1527px 1535px,#ff5500 1535px 1542px,#fff 1542px 1552px,#ffaa00 1552px 1558px,#ffff80 1558px 1573px,#ff8000 1573px 1603px,#ffaa00 1603px 1618px,#ff3300 1618px 1625px,#ff8000 1625px 1633px,#ff5500 1633px 1641px,#ff8000 1641px 1648px,#ffaa00 1648px 1664px,#ffff10 1664px 1679px,#ffaa00 1679px 1686px,#ff2000 1686px 1709px,#ff8000 1709px 1731px,#ff1100 1731px 1762px,#ffaa00 1762px 1777px,#ffcc00 1777px 1806px,#fff 1806px 1815px,#ffaa00 1815px 1824px,#ffff10 1824px 1830px,#ff8000 1830px 1836px,#ffaa00 1836px 1842px,#ff8000 1842px 1851px,#fff 1851px 1867px,#ff8000 1867px 1873px,#ffaa00 1873px 1882px,#ff8000 1882px 1897px,#ff6600 1897px 1912px,#ff8000 1912px 1921px,#ffff10 1921px 1927px,#ffffd0 1927px 1933px,#ffff80 1933px 1948px,#ffaa00 1948px 1964px,#ffff10 1964px 1973px,#fff 1973px 1985px,#ffff10 1985px 2000px,#fff 2000px 2009px,#ffff80 2009px 2024px,#ffff10 2024px 2033px,#ff8000 2033px 2045px,#fff 2045px 2073px,#ffff80 2073px 2106px,#ffaa00 2106px 2121px,#ffffd0 2121px 2133px,#ffff10 2133px 2151px,#ffff80 2151px 2173px,#ffaa00 2173px 2188px,#ffffd0 2188px 2212px,#ffaa00 2212px 2227px,#ffff10 2227px 2267px,#ffffd0 2267px 2309px,#fff 2309px)"></div>

<div class="r" style="top:1436px;height:197px;background:linear-gradient(90deg,#fff 0px 489px,#ffffd0 489px 498px,#fff 498px 514px,#ffff80 514px 529px,#ffffd0 529px 544px,#ffff80 544px 559px,#ffffd0 559px 574px,#ffff44 574px 589px,#ffff80 589px 605px,#ffff10 605px 620px,#ffff80 620px 632px,#ffdd00 632px 650px,#ffff10 650px 663px,#ffaa00 663px 686px,#fff 686px 694px,#ff5500 694px 717px,#ee0000 717px 724px,#300000 724px 732px,#dd0000 732px 740px,#200000 740px 753px,#100000 753px 770px,#ff1500 770px 777px,#400000 777px 784px,#500000 784px 792px,#200000 792px 800px,#ee0000 800px 807px,#ff0000 807px 815px,#aa0000 815px 823px,#400000 823px 838px,#ff0000 838px 852px,#c00000 852px 882px,#ff6600 882px 897px,#ff1500 897px 905px,#ff2200 905px 920px,#fff 920px 928px,#ee0000 928px 950px,#ffffd0 950px 958px,#ffff10 958px 965px,#ff8000 965px 972px,#ff5500 972px 980px,#ff8000 980px 995px,#fff 995px 1003px,#ffd500 1003px 1017px,#ffaa00 1017px 1026px,#ffff10 1026px 1041px,#ffaa00 1041px 1056px,#ffd500 1056px 1085px,#fff 1085px 1115px,#ffaa00 1115px 1130px,#ffff10 1130px 1144px,#fff 1144px 1160px,#ffff10 1160px 1168px,#ffd500 1168px 1183px,#fff 1183px 1214px,#ffff10 1214px 1229px,#ffff80 1229px 1259px,#ff8800 1259px 1280px,#ff8000 1280px 1295px,#ffff80 1295px 1310px,#ff8800 1310px 1325px,#ff8000 1325px 1341px,#fff 1341px 1347px,#ffaa00 1347px 1377px,#ff8800 1377px 1400px,#ffff10 1400px 1407px,#ff9900 1407px 1430px,#ffff10 1430px 1438px,#ff8000 1438px 1445px,#fff 1445px 1453px,#ffff80 1453px 1461px,#ff9900 1461px 1476px,#ffff80 1476px 1483px,#ff8000 1483px 1491px,#ffff10 1491px 1498px,#ff8000 1498px 1506px,#fff 1506px 1512px,#ff9900 1512px 1527px,#fff 1527px 1535px,#ff8000 1535px 1542px,#fff 1542px 1552px,#ff6600 1552px 1564px,#fff 1564px 1573px,#ffaa00 1573px 1594px,#ff8000 1594px 1603px,#ffff10 1603px 1618px,#ffff80 1618px 1625px,#ffff10 1625px 1633px,#ffff80 1633px 1648px,#ff8800 1648px 1656px,#ffaa00 1656px 1664px,#ffff10 1664px 1679px,#ffaa00 1679px 1691px,#ffff10 1691px 1709px,#ff8800 1709px 1730px,#ffaa00 1730px 1739px,#ffff80 1739px 1754px,#ffaa00 1754px 1770px,#ff5500 1770px 1779px,#ff8000 1779px 1791px,#fff 1791px 1800px,#ffff10 1800px 1812px,#ffff80 1812px 1830px,#ffaa00 1830px 1873px,#ffff80 1873px 1882px,#fff 1882px 1891px,#ffff10 1891px 1903px,#fff 1903px 1912px,#ffaa00 1912px 1921px,#ff8000 1921px 1939px,#ffd500 1939px 1948px,#ffff80 1948px 1961px,#ff8800 1961px 1976px,#fff 1976px 2000px,#ffff10 2000px 2024px,#ffff80 2024px 2033px,#ff8000 2033px 2042px,#ffffd0 2042px 2054px,#fff 2054px 2073px,#ffff80 2073px 2085px,#ffbb00 2085px 2103px,#fff 2103px 2112px,#ffaa00 2112px 2133px,#ffffd0 2133px 2167px,#ff8800 2167px 2182px,#ffff80 2182px 2212px,#ffffd0 2212px 2273px,#fff 2273px)"></div>

<div class="r" style="top:1633px;height:112px;background:linear-gradient(90deg,#fff 0px 498px,#ffffd0 498px 514px,#fff 514px 523px,#ffff80 523px 544px,#fff 544px 553px,#ffff10 553px 565px,#ffff80 565px 589px,#ffff10 589px 605px,#fff 605px 614px,#ffd500 614px 620px,#ffff10 620px 635px,#ffaa00 635px 641px,#ff8000 641px 656px,#ffaa00 656px 671px,#ff5500 671px 686px,#fff 686px 701px,#dd0000 701px 717px,#ff1500 717px 724px,#300000 724px 732px,#180000 732px 753px,#990000 753px 762px,#300000 762px 770px,#500000 770px 777px,#200000 777px 792px,#ff1500 792px 800px,#ff0000 800px 808px,#990000 808px 823px,#cc0000 823px 838px,#ff5500 838px 844px,#ee0000 844px 859px,#bb0000 859px 874px,#ff8000 874px 882px,#ee0000 882px 897px,#fff 897px 905px,#ff1100 905px 920px,#ff0000 920px 927px,#ee0000 927px 935px,#fff 935px 942px,#ff7700 942px 957px,#ffff10 957px 965px,#fff 965px 972px,#ff8000 972px 986px,#ff4400 986px 1001px,#ff8000 1001px 1009px,#ffaa00 1009px 1017px,#ff8000 1017px 1047px,#ffaa00 1047px 1077px,#fff 1077px 1083px,#ffff80 1083px 1092px,#ffff10 1092px 1108px,#ffd500 1108px 1122px,#ffff80 1122px 1129px,#ffff10 1129px 1144px,#ffaa00 1144px 1159px,#ffff10 1159px 1174px,#ffff80 1174px 1183px,#ffff10 1183px 1205px,#ffaa00 1205px 1214px,#fff 1214px 1229px,#ffaa00 1229px 1238px,#ff8000 1238px 1265px,#ff8800 1265px 1286px,#ff8000 1286px 1301px,#ffff80 1301px 1317px,#fff 1317px 1329px,#ffaa00 1329px 1341px,#fff 1341px 1353px,#ff8000 1353px 1359px,#ffaa00 1359px 1377px,#ff5500 1377px 1400px,#ffff10 1400px 1407px,#ff5500 1407px 1422px,#ff8000 1422px 1430px,#ffff10 1430px 1438px,#ffaa00 1438px 1445px,#ff7700 1445px 1461px,#ffaa00 1461px 1476px,#ff8000 1476px 1491px,#ffaa00 1491px 1498px,#ff8000 1498px 1513px,#ffff10 1513px 1521px,#fff 1521px 1527px,#ffd500 1527px 1535px,#fff 1535px 1542px,#ff4400 1542px 1558px,#fff 1558px 1565px,#ff8000 1565px 1580px,#ffaa00 1580px 1588px,#fff 1588px 1595px,#ffaa00 1595px 1603px,#ff4400 1603px 1625px,#ff8000 1625px 1641px,#ff4400 1641px 1671px,#ff8000 1671px 1679px,#ffff10 1679px 1685px,#ff5500 1685px 1694px,#ff3300 1694px 1709px,#ff8000 1709px 1716px,#ff0000 1716px 1739px,#ff8000 1739px 1754px,#ff1100 1754px 1777px,#ffaa00 1777px 1785px,#ff4400 1785px 1800px,#ffd500 1800px 1806px,#ffaa00 1806px 1821px,#ff8800 1821px 1842px,#ffaa00 1842px 1851px,#fff 1851px 1867px,#ff6600 1867px 1882px,#ffaa00 1882px 1897px,#ffff80 1897px 1921px,#ffffd0 1921px 1933px,#ffff80 1933px 1948px,#ffff10 1948px 1961px,#fff 1961px 1982px,#ffff88 1982px 2024px,#fff 2024px 2045px,#ffff10 2045px 2055px,#ff6600 2055px 2070px,#fff 2070px 2079px,#ffff10 2079px 2091px,#ffffd0 2091px 2100px,#ffff80 2100px 2115px,#ff6600 2115px 2136px,#fff 2136px 2145px,#ffffd0 2145px 2167px,#ffff80 2167px 2203px,#ffaa00 2203px 2215px,#ffff10 2215px 2236px,#fff 2236px 2273px,#ffff80 2273px 2309px,#fff 2309px)"></div>

<div class="r" style="top:1745px;height:112px;background:linear-gradient(90deg,#fff 0px 489px,#ffffd0 489px 498px,#ffff80 498px 514px,#ffff10 514px 529px,#ffff80 529px 544px,#ffff10 544px 559px,#ffff80 559px 574px,#ffff10 574px 589px,#ffff80 589px 605px,#ffd500 605px 620px,#ffff10 620px 635px,#ffff80 635px 650px,#ffff10 650px 665px,#ffaa00 665px 680px,#ffff10 680px 686px,#ff3300 686px 711px,#ff1500 711px 717px,#aa0000 717px 726px,#ff0000 726px 732px,#200000 732px 762px,#ff1500 762px 770px,#500000 770px 784px,#600000 784px 792px,#ff1500 792px 800px,#ff0000 800px 808px,#aa0000 808px 823px,#500000 823px 831px,#880000 831px 844px,#500000 844px 852px,#ff3300 852px 874px,#ffd500 874px 882px,#ee0000 882px 897px,#ff8000 897px 905px,#ff1500 905px 914px,#ff4400 914px 935px,#ff8000 935px 942px,#ff5500 942px 956px,#ff8000 956px 965px,#ffaa00 965px 972px,#ff8000 972px 980px,#ff5500 980px 995px,#ffff10 995px 1003px,#ff8000 1003px 1018px,#ffaa00 1018px 1026px,#ff5500 1026px 1033px,#ffd500 1033px 1048px,#ffaa00 1048px 1062px,#ffd500 1062px 1077px,#ffff10 1077px 1092px,#fff 1092px 1117px,#ffff80 1117px 1132px,#ffff10 1132px 1147px,#ffff80 1147px 1162px,#ffff10 1162px 1177px,#ffaa00 1177px 1189px,#ffff80 1189px 1198px,#ffff10 1198px 1210px,#fff 1210px 1220px,#ffaa00 1220px 1238px,#ffff80 1238px 1250px,#ffff10 1250px 1265px,#ff8000 1265px 1280px,#ffaa00 1280px 1296px,#ffff10 1296px 1311px,#ffff80 1311px 1326px,#ff8000 1326px 1341px,#ffd500 1341px 1356px,#ffff10 1356px 1374px,#ffaa00 1374px 1400px,#fff 1400px 1407px,#ffff10 1407px 1430px,#ff9900 1430px 1445px,#ffaa00 1445px 1461px,#ff9900 1461px 1483px,#ffaa00 1483px 1498px,#ffff10 1498px 1506px,#fff 1506px 1513px,#ffff10 1513px 1521px,#ffd500 1521px 1535px,#ffee00 1535px 1558px,#ffff10 1558px 1580px,#ffff80 1580px 1588px,#ffff10 1588px 1595px,#fff 1595px 1610px,#ff6600 1610px 1625px,#fff 1625px 1633px,#ffff10 1633px 1648px,#ffd500 1648px 1671px,#fff 1671px 1694px,#ffff10 1694px 1709px,#fff 1709px 1724px,#ffff10 1724px 1739px,#fff 1739px 1754px,#ffaa00 1754px 1762px,#ffff10 1762px 1770px,#fff 1770px 1785px,#ffff80 1785px 1800px,#fff 1800px 1852px,#ffaa00 1852px 1867px,#ff8000 1867px 1879px,#fff 1879px 1888px,#ffff10 1888px 1903px,#ffff80 1903px 1918px,#ffff10 1918px 1933px,#ffaa00 1933px 1948px,#fff 1948px 1958px,#ff8000 1958px 1970px,#fff 1970px 1979px,#ffaa00 1979px 1991px,#ffff80 1991px 2000px,#ffff10 2000px 2012px,#ffff80 2012px 2024px,#ff8000 2024px 2036px,#ffff10 2036px 2048px,#fff 2048px 2055px,#ff8800 2055px 2070px,#fff 2070px 2079px,#ffff80 2079px 2115px,#ff8800 2115px 2136px,#fff 2136px 2145px,#ffff80 2145px 2167px,#ffff10 2167px 2194px,#ffff80 2194px 2212px,#ffff10 2212px 2224px,#fff 2224px 2236px,#ffff80 2236px 2273px,#ffffd0 2273px 2315px,#fff 2315px)"></div>

<div class="r" style="top:1857px;height:197px;background:linear-gradient(90deg,#fff 0px 498px,#ffffd0 498px 505px,#fff 505px 535px,#ffffd0 535px 550px,#ffff80 550px 559px,#ffffd0 559px 574px,#ffff80 574px 589px,#ffffd0 589px 605px,#fff 605px 611px,#ffff80 611px 632px,#fff 632px 641px,#ffff44 641px 663px,#fff 663px 671px,#ffff10 671px 679px,#ffff80 679px 686px,#ffff10 686px 701px,#ffd500 701px 709px,#ffaa00 709px 717px,#ff7700 717px 732px,#ff4400 732px 747px,#ff1100 747px 755px,#aa0000 755px 762px,#fff 762px 770px,#800000 770px 800px,#ff1500 800px 808px,#ee0000 808px 815px,#ffd500 815px 823px,#ffff10 823px 831px,#ff5500 831px 838px,#ffff10 838px 845px,#ff8000 845px 853px,#880000 853px 867px,#770000 867px 882px,#ee0000 882px 897px,#ff8000 897px 905px,#ffaa00 905px 920px,#ff8000 920px 927px,#ff3300 927px 942px,#ff8000 942px 950px,#ffff10 950px 958px,#ffaa00 958px 965px,#ff8000 965px 972px,#ffaa00 972px 986px,#fff 986px 994px,#ff6600 994px 1009px,#ff8000 1009px 1024px,#ffaa00 1024px 1056px,#ff8000 1056px 1070px,#fff 1070px 1077px,#ffff80 1077px 1085px,#ffff10 1085px 1100px,#ffd500 1100px 1115px,#ffff10 1115px 1122px,#ffff80 1122px 1130px,#ffff10 1130px 1145px,#ffd500 1145px 1160px,#ffff10 1160px 1168px,#ffff80 1168px 1183px,#fff 1183px 1198px,#ffff80 1198px 1214px,#ffff10 1214px 1227px,#ffaa00 1227px 1242px,#fff 1242px 1250px,#ffaa00 1250px 1280px,#ffff80 1280px 1296px,#ffffd0 1296px 1311px,#ffff10 1311px 1326px,#ffff80 1326px 1356px,#ffff10 1356px 1371px,#ffff80 1371px 1407px,#ffffd0 1407px 1415px,#ffff10 1415px 1430px,#ffff80 1430px 1468px,#fff 1468px 1483px,#ffff10 1483px 1512px,#fff 1512px 1527px,#ffff80 1527px 1552px,#ffaa00 1552px 1564px,#ffd500 1564px 1573px,#ffaa00 1573px 1588px,#ff8800 1588px 1603px,#ffff80 1603px 1618px,#ff8000 1618px 1625px,#ffff80 1625px 1633px,#ffff10 1633px 1648px,#ff7700 1648px 1664px,#ffff80 1664px 1679px,#ffaa00 1679px 1686px,#ff8800 1686px 1701px,#fff 1701px 1709px,#ffff10 1709px 1724px,#fff 1724px 1740px,#ffff10 1740px 1755px,#ffaa00 1755px 1785px,#fff 1785px 1800px,#ffaa00 1800px 1812px,#ffff80 1812px 1824px,#fff 1824px 1836px,#ffff10 1836px 1851px,#fff 1851px 1867px,#ffff10 1867px 1885px,#ffaa00 1885px 1897px,#ffd500 1897px 1909px,#fff 1909px 1964px,#ff9900 1964px 1985px,#ffd500 1985px 2000px,#ff7700 2000px 2015px,#ffaa00 2015px 2024px,#fff 2024px 2033px,#ffff10 2033px 2039px,#ffaa00 2039px 2055px,#fff 2055px 2076px,#ffff80 2076px 2100px,#ffffd0 2100px 2106px,#ffff80 2106px 2145px,#ffff10 2145px 2158px,#ffff80 2158px 2176px,#ffd500 2176px 2188px,#ff8800 2188px 2203px,#ffd500 2203px 2212px,#ffffd0 2212px 2236px,#ffff80 2236px 2294px,#fff 2294px)"></div>

<div class="r" style="top:2054px;height:110px;background:linear-gradient(90deg,#fff 0px 498px,#ffffd0 498px 514px,#fff 514px 529px,#ffffd0 529px 544px,#fff 544px 552px,#ffffd0 552px 559px,#fff 559px 574px,#ffffd0 574px 589px,#fff 589px 605px,#ffffd0 605px 635px,#ffff80 635px 650px,#fff 650px 665px,#ffff80 665px 680px,#ffff44 680px 694px,#fff 694px 701px,#ffff80 701px 717px,#ffd500 717px 724px,#ffcc00 724px 740px,#ffd500 740px 747px,#ffaa00 747px 755px,#ffff10 755px 762px,#ff8800 762px 770px,#ff3300 770px 784px,#ff5500 784px 792px,#dd0000 792px 800px,#aa0000 800px 830px,#cc0000 830px 838px,#ffd500 838px 852px,#ff8000 852px 859px,#bb0000 859px 874px,#ff0000 874px 882px,#ee0000 882px 889px,#fff 889px 897px,#ff0000 897px 905px,#fff 905px 912px,#ff1500 912px 920px,#ff5500 920px 935px,#ff3300 935px 950px,#ff4400 950px 965px,#ffff10 965px 972px,#ffaa00 972px 980px,#ffd500 980px 995px,#ffaa00 995px 1003px,#ffff10 1003px 1032px,#ffd500 1032px 1047px,#ffff80 1047px 1056px,#ffd500 1056px 1077px,#ffff80 1077px 1100px,#fff 1100px 1115px,#ffffd0 1115px 1130px,#fff 1130px 1138px,#ffff10 1138px 1153px,#ffff80 1153px 1168px,#ffffd0 1168px 1183px,#ffff80 1183px 1198px,#ffff10 1198px 1214px,#fff 1214px 1227px,#ff8000 1227px 1242px,#ffaa00 1242px 1280px,#fff 1280px 1310px,#ffff00 1310px 1332px,#fff 1332px 1347px,#ffff80 1347px 1362px,#fff 1362px 1377px,#ffff80 1377px 1386px,#fff 1386px 1400px,#ffff10 1400px 1412px,#ffd500 1412px 1427px,#fff 1427px 1439px,#ffffd0 1439px 1461px,#ffff80 1461px 1476px,#ffffd0 1476px 1491px,#ffff80 1491px 1506px,#ffd500 1506px 1521px,#ffff10 1521px 1528px,#ffd500 1528px 1544px,#ffff80 1544px 1558px,#ffd500 1558px 1573px,#fff 1573px 1603px,#ffcc00 1603px 1633px,#ffff10 1633px 1655px,#fff 1655px 1694px,#ffaa00 1694px 1709px,#ffd500 1709px 1724px,#ffaa00 1724px 1739px,#ffd500 1739px 1754px,#ffaa00 1754px 1769px,#ff8000 1769px 1785px,#ffaa00 1785px 1797px,#fff 1797px 1806px,#ffd500 1806px 1827px,#ffbb00 1827px 1864px,#fff 1864px 1885px,#ffffd0 1885px 1918px,#ffff80 1918px 1933px,#ffffd0 1933px 1948px,#fff 1948px 1961px,#ffffd0 1961px 1976px,#ffff80 1976px 1991px,#fff 1991px 2003px,#ffff80 2003px 2024px,#ffd500 2024px 2033px,#ffff10 2033px 2045px,#ffff80 2045px 2055px,#ffaa00 2055px 2070px,#ffbb00 2070px 2091px,#fff 2091px 2121px,#ffffd0 2121px 2133px,#fff 2133px 2145px,#ffff10 2145px 2158px,#fff 2158px 2167px,#ffff80 2167px 2182px,#ffff10 2182px 2197px,#ff8000 2197px 2212px,#ffaa00 2212px 2230px,#ffff10 2230px 2273px,#fff 2273px 2288px,#ffff80 2288px 2303px,#ffffd0 2303px 2333px,#fff 2333px)"></div>

<div style="position:absolute;left:2887px;top:196.3px;width:163px;height:2132.8px;background:linear-gradient(180deg,#0b0000 0% 1.5625%,#150000 1.5625% 3.125%,#200000 3.125% 4.6875%,#2a0000 4.6875% 6.25%,#350000 6.25% 7.8125%,#400000 7.8125% 9.375%,#4a0000 9.375% 10.9375%,#550000 10.9375% 12.5%,#600000 12.5% 14.0625%,#6a0000 14.0625% 15.625%,#750000 15.625% 17.1875%,#800000 17.1875% 18.75%,#8a0000 18.75% 20.3125%,#950000 20.3125% 21.875%,#9f0000 21.875% 23.4375%,#aa0000 23.4375% 25%,#b50000 25% 26.5625%,#bf0000 26.5625% 28.125%,#ca0000 28.125% 29.6875%,#d50000 29.6875% 31.25%,#df0000 31.25% 32.8125%,#ea0000 32.8125% 34.375%,#f40000 34.375% 35.9375%,#ff0000 35.9375% 37.5%,#ff0b00 37.5% 39.0625%,#ff1500 39.0625% 40.625%,#ff2000 40.625% 42.1875%,#ff2a00 42.1875% 43.75%,#ff3500 43.75% 45.3125%,#ff4000 45.3125% 46.875%,#ff4a00 46.875% 48.4375%,#ff5500 48.4375% 50%,#ff6000 50% 51.5625%,#ff6a00 51.5625% 53.125%,#ff7500 53.125% 54.6875%,#ff8000 54.6875% 56.25%,#ff8a00 56.25% 57.8125%,#ff9500 57.8125% 59.375%,#ff9f00 59.375% 60.9375%,#ffaa00 60.9375% 62.5%,#ffb500 62.5% 64.0625%,#ffbf00 64.0625% 65.625%,#ffca00 65.625% 67.1875%,#ffd500 67.1875% 68.75%,#ffdf00 68.75% 70.3125%,#ffea00 70.3125% 71.875%,#fff400 71.875% 73.4375%,#ffff00 73.4375% 75%,#ffff10 75% 76.5625%,#ffff20 76.5625% 78.125%,#ffff30 78.125% 79.6875%,#ffff40 79.6875% 81.25%,#ffff50 81.25% 82.8125%,#ffff60 82.8125% 84.375%,#ffff70 84.375% 85.9375%,#ffff80 85.9375% 87.5%,#ffff8f 87.5% 89.0625%,#ffff9f 89.0625% 90.625%,#ffffaf 90.625% 92.1875%,#ffffbf 92.1875% 93.75%,#ffffcf 93.75% 95.3125%,#ffffdf 95.3125% 96.875%,#ffffef 96.875% 98.4375%,#ffffff 98.4375% 100%)"></div>

<svg width="3489" height="2617" viewBox="0 0 3489 2617" style="position:absolute;left:0;top:0" xmlns="http://www.w3.org/2000/svg">
<g fill="none" stroke="#262626">
<rect x="453.6" y="196.3" width="2163.4" height="2132.8" stroke-width="7"/>
<path stroke-width="6" d="M814.2 2329V2289M1174.7 2329V2289M1535.3 2329V2289M1895.8 2329V2289M2256.4 2329V2289M814.2 196.3V236.3M1174.7 196.3V236.3M1535.3 196.3V236.3M1895.8 196.3V236.3M2256.4 196.3V236.3M453.6 729.5H493.6M453.6 1262.7H493.6M453.6 1795.9H493.6M2617 729.5H2577M2617 1262.7H2577M2617 1795.9H2577"/>
<rect x="2887" y="196.3" width="163" height="2132.8" stroke-width="4"/>
<path stroke-width="5" d="M2887 622.9H2911M3050 622.9H3026M2887 1049.4H2911M3050 1049.4H3026M2887 1476H2911M3050 1476H3026M2887 1902.6H2911M3050 1902.6H3026"/>
</g>
<g font-family="Liberation Sans, Arial, Helvetica, sans-serif" fill="#262626" font-size="82">
<g text-anchor="middle">
<text x="453.6" y="2452">0</text>
<text x="814.2" y="2452">1</text>
<text x="1174.7" y="2452">2</text>
<text x="1535.3" y="2452">3</text>
<text x="1895.8" y="2452">4</text>
<text x="2256.4" y="2452">5</text>
<text x="2617" y="2452">6</text>
</g>
<g text-anchor="end">
<text x="410" y="226.3">200</text>
<text x="410" y="759.5">100</text>
<text x="410" y="1292.7">0</text>
<text x="410" y="1825.9">-100</text>
<text x="410" y="2359">-200</text>
</g>
<g text-anchor="start">
<text x="3095" y="226.3">0</text>
<text x="3095" y="652.9">-10</text>
<text x="3095" y="1079.4">-20</text>
<text x="3095" y="1506">-30</text>
<text x="3095" y="1932.6">-40</text>
<text x="3095" y="2359">-50</text>
</g>
<text x="1535.3" y="2568" font-size="91" text-anchor="middle">Time (ms)</text>
<text transform="translate(187,1264) rotate(-90)" font-size="91" text-anchor="middle">Azimuth angle (deg)</text>
<text transform="translate(3323,1264) rotate(-90)" font-size="91" text-anchor="middle">dB re max</text>
<text x="1535.3" y="94" font-size="91" font-weight="bold" fill="#000" text-anchor="middle">Horizontal plane +/-2 degrees</text>
</g>
</svg>
</body></html>
